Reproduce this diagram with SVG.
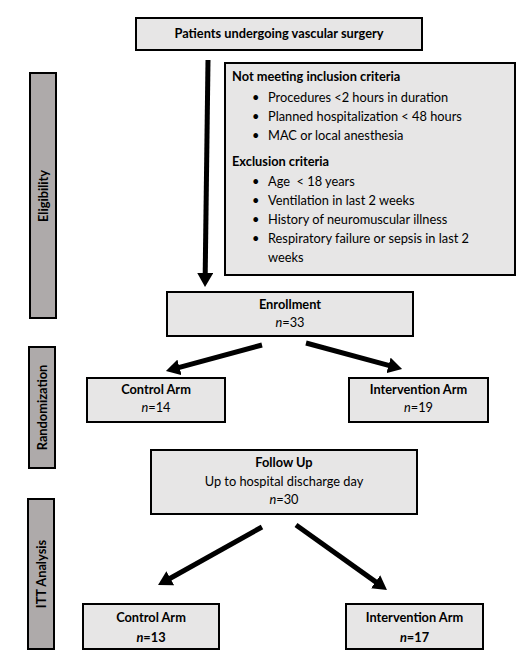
<svg xmlns="http://www.w3.org/2000/svg" width="532" height="664" viewBox="0 0 532 664">
<style>
text{font-family:Lato,"Liberation Sans",sans-serif;font-size:12.8px;fill:#000}
.b{font-weight:bold}
.c{text-anchor:middle}
.box{fill:#e7e6e6;stroke:#000;stroke-width:2}
.bar{fill:#aeaaaa;stroke:#000;stroke-width:2}
.arr{stroke:#000;stroke-width:5;fill:none;marker-end:url(#ah)}
</style>
<defs>
<marker id="ah" markerUnits="userSpaceOnUse" viewBox="0 0 14 16" markerWidth="14" markerHeight="16" refX="1" refY="8" orient="auto">
<path d="M0,0 L14,8 L0,16 z" fill="#000"/>
</marker>
</defs>
<rect width="532" height="664" fill="#fff"/>
<g id="bar-eligibility"><rect class="bar" x="30" y="73" width="26" height="245"/><text class="b c" transform="translate(47.5,196) rotate(-90)">Eligibility</text></g>
<g id="bar-randomization"><rect class="bar" x="29" y="347" width="26" height="121"/><text class="b c" transform="translate(46.5,407.5) rotate(-90)">Randomization</text></g>
<g id="bar-itt"><rect class="bar" x="28" y="499" width="26" height="150"/><text class="b c" transform="translate(45.5,574) rotate(-90)">ITT Analysis</text></g>
<g id="connectors">
<path class="arr" d="M208,60 L205.2,274"/>
<path class="arr" d="M262,345 L178.5,367.6"/>
<path class="arr" d="M306,343 L389.5,365.6"/>
<path class="arr" d="M262,527 L169.4,578.7"/>
<path class="arr" d="M296,525 L376.4,582.4"/>
</g>
<g id="patients"><rect class="box" x="136" y="18" width="286" height="32"/><text class="b c" x="279" y="38">Patients undergoing vascular surgery</text></g>
<g id="criteria"><rect class="box" x="225" y="63" width="290" height="212"/>
<text class="b" x="232" y="81">Not meeting inclusion criteria</text>
<text x="252" y="102">•</text><text x="268" y="102">Procedures &lt;2 hours in duration</text>
<text x="252" y="121">•</text><text x="268" y="121">Planned hospitalization &lt; 48 hours</text>
<text x="252" y="140">•</text><text x="268" y="140">MAC or local anesthesia</text>
<text class="b" x="232" y="166">Exclusion criteria</text>
<text x="252" y="186">•</text><text x="268" y="186">Age&#160; &lt; 18 years</text>
<text x="252" y="205">•</text><text x="268" y="205">Ventilation in last 2 weeks</text>
<text x="252" y="224">•</text><text x="268" y="224">History of neuromuscular illness</text>
<text x="252" y="243">•</text><text x="268" y="243">Respiratory failure or sepsis in last 2</text>
<text x="268" y="262">weeks</text>
</g>
<g id="enrollment"><rect class="box" x="167" y="292" width="246" height="44"/><text class="b c" x="290" y="309">Enrollment</text><text class="c" x="290" y="327"><tspan font-style="italic">n</tspan>=33</text></g>
<g id="control1"><rect class="box" x="87" y="378" width="138" height="44"/><text class="b c" x="156" y="394">Control Arm</text><text class="c" x="156" y="412"><tspan font-style="italic">n</tspan>=14</text></g>
<g id="intervention1"><rect class="box" x="349" y="378" width="139" height="44"/><text class="b c" x="418.5" y="394">Intervention Arm</text><text class="c" x="418.5" y="412"><tspan font-style="italic">n</tspan>=19</text></g>
<g id="followup"><rect class="box" x="151" y="450" width="266" height="64"/><text class="b c" x="284" y="467">Follow Up</text><text class="c" x="284" y="486">Up to hospital discharge day</text><text class="c" x="284" y="504"><tspan font-style="italic">n</tspan>=30</text></g>
<g id="control2"><rect class="box" x="83" y="604" width="136" height="45"/><text class="b c" x="151" y="622">Control Arm</text><text class="b c" x="151" y="642"><tspan font-style="italic">n</tspan>=13</text></g>
<g id="intervention2"><rect class="box" x="346" y="604" width="137" height="45"/><text class="b c" x="414.5" y="622">Intervention Arm</text><text class="b c" x="414.5" y="642"><tspan font-style="italic">n</tspan>=17</text></g>
</svg>
